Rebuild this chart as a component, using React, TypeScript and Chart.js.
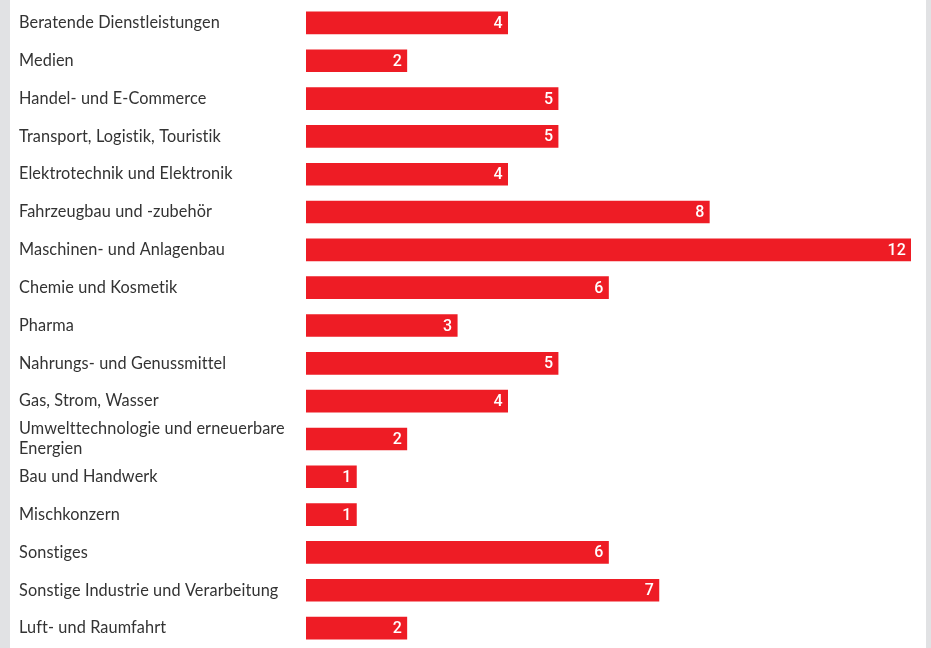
import React, { useEffect, useRef } from "react";
import { Chart, registerables } from "chart.js";

Chart.register(...registerables);

const categories: (string | string[])[] = [
  "Beratende Dienstleistungen",
  "Medien",
  "Handel- und E-Commerce",
  "Transport, Logistik, Touristik",
  "Elektrotechnik und Elektronik",
  "Fahrzeugbau und -zubehör",
  "Maschinen- und Anlagenbau",
  "Chemie und Kosmetik",
  "Pharma",
  "Nahrungs- und Genussmittel",
  "Gas, Strom, Wasser",
  ["Umwelttechnologie und erneuerbare", "Energien"],
  "Bau und Handwerk",
  "Mischkonzern",
  "Sonstiges",
  "Sonstige Industrie und Verarbeitung",
  "Luft- und Raumfahrt",
];

const values: number[] = [4, 2, 5, 5, 4, 8, 12, 6, 3, 5, 4, 2, 1, 1, 6, 7, 2];

const RED = "#ee1c25";

const noLigatures = {
  id: "noLigatures",
  beforeDraw(chart: any) {
    try {
      chart.ctx.letterSpacing = "0.1px";
    } catch (e) {}
  },
};

const valueLabels = {
  id: "valueLabels",
  afterDatasetsDraw(chart: any) {
    const ctx = chart.ctx;
    const meta = chart.getDatasetMeta(0);
    ctx.save();
    ctx.fillStyle = "#ffffff";
    ctx.font = "500 16px Roboto";
    ctx.textAlign = "right";
    ctx.textBaseline = "middle";
    meta.data.forEach((bar: any, i: number) => {
      ctx.fillText(String(values[i]), bar.x - 5, bar.y + 1);
    });
    ctx.restore();
  },
};

export default function App() {
  const ref = useRef<HTMLCanvasElement>(null);
  useEffect(() => {
    if (!ref.current) return;
    const chart = new Chart(ref.current, {
      type: "bar",
      data: {
        labels: categories,
        datasets: [
          {
            data: values,
            backgroundColor: RED,
            borderWidth: 0,
            barThickness: 22,
          },
        ],
      },
      options: {
        indexAxis: "y",
        animation: false,
        responsive: false,
        maintainAspectRatio: false,
        layout: { padding: { left: 19, right: 20, top: 4, bottom: 1 } },
        plugins: { legend: { display: false }, tooltip: { enabled: false } },
        scales: {
          x: { display: false, min: 0, max: 12 },
          y: {
            grid: { display: false },
            border: { display: false },
            ticks: {
              autoSkip: false,
              crossAlign: "far",
              color: "#333333",
              font: { family: "Lato", size: 16.3, lineHeight: 1.2 },
              padding: 0,
            },
            afterFit(scale: any) {
              scale.width = 287;
              scale.paddingTop = 0;
              scale.paddingBottom = 0;
            },
          },
        },
      },
      plugins: [noLigatures, valueLabels],
    });
    return () => chart.destroy();
  }, []);
  return (
    <div style={{ position: "absolute", left: 0, top: 0, width: 931, height: 648, background: "#e1e2e4" }}>
      <div style={{ position: "absolute", left: 10, top: 0, width: 916, height: 648, background: "#ffffff" }} />
      <canvas ref={ref} width={931} height={648} style={{ position: "absolute", left: 0, top: 0 }} />
    </div>
  );
}
